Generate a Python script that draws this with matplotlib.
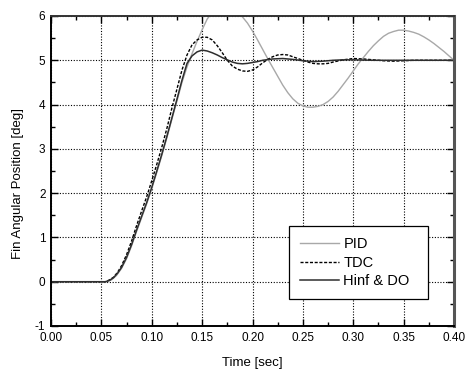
import matplotlib
matplotlib.use("Agg")
import matplotlib.pyplot as plt
from matplotlib.ticker import MultipleLocator

plt.rcParams['font.family'] = ['Liberation Sans', 'DejaVu Sans']

# ---- data ----
t_hinf = [0.0, 0.05, 0.054, 0.058, 0.062, 0.066, 0.07, 0.075, 0.08, 0.085, 0.09, 0.095,
          0.10, 0.105, 0.11, 0.115, 0.12, 0.125, 0.13, 0.135, 0.14, 0.145, 0.15, 0.155,
          0.16, 0.165, 0.17, 0.175, 0.18, 0.185, 0.19, 0.195, 0.20, 0.205, 0.21, 0.22,
          0.23, 0.24, 0.25, 0.26, 0.27, 0.28, 0.29, 0.30, 0.32, 0.40]
hinf = [0.0, 0.0, 0.0, 0.03, 0.09, 0.19, 0.32, 0.55, 0.84, 1.17, 1.48, 1.79,
        2.13, 2.5, 2.88, 3.28, 3.7, 4.12, 4.55, 4.93, 5.1, 5.19, 5.23, 5.21,
        5.17, 5.12, 5.06, 5.01, 4.96, 4.93, 4.92, 4.93, 4.95, 4.97, 5.0, 5.03,
        5.04, 5.02, 4.99, 4.97, 4.98, 5.0, 5.01, 5.01, 5.0, 5.0]

t_tdc = [0.0, 0.05, 0.054, 0.058, 0.062, 0.066, 0.07, 0.075, 0.08, 0.085, 0.09, 0.095,
         0.10, 0.105, 0.11, 0.115, 0.12, 0.125, 0.13, 0.135, 0.14, 0.145, 0.15, 0.155,
         0.16, 0.165, 0.17, 0.175, 0.18, 0.185, 0.19, 0.195, 0.20, 0.205, 0.21, 0.215,
         0.22, 0.225, 0.23, 0.235, 0.24, 0.245, 0.25, 0.255, 0.26, 0.265, 0.27, 0.275,
         0.28, 0.29, 0.30, 0.31, 0.32, 0.33, 0.34, 0.35, 0.36, 0.40]
tdc = [0.0, 0.0, 0.0, 0.04, 0.1, 0.21, 0.36, 0.61, 0.92, 1.27, 1.6, 1.92,
       2.28, 2.65, 3.04, 3.46, 3.92, 4.35, 4.78, 5.12, 5.35, 5.46, 5.52, 5.52,
       5.46, 5.33, 5.17, 5.0, 4.87, 4.8, 4.76, 4.75, 4.78, 4.85, 4.94, 5.02,
       5.08, 5.12, 5.13, 5.12, 5.08, 5.04, 5.0, 4.96, 4.93, 4.92, 4.92, 4.93,
       4.96, 5.01, 5.04, 5.03, 5.01, 4.99, 4.98, 4.99, 5.0, 5.0]

t_pid = [0.0, 0.05, 0.055, 0.06, 0.065, 0.07, 0.075, 0.08, 0.085, 0.09, 0.095, 0.10,
         0.105, 0.11, 0.115, 0.12, 0.125, 0.13, 0.135, 0.14, 0.145, 0.15, 0.155, 0.16,
         0.165, 0.17, 0.175, 0.18, 0.185, 0.19, 0.195, 0.20, 0.205, 0.21, 0.215, 0.22,
         0.225, 0.23, 0.235, 0.24, 0.245, 0.25, 0.255, 0.26, 0.265, 0.27, 0.275, 0.28,
         0.285, 0.29, 0.295, 0.30, 0.305, 0.31, 0.315, 0.32, 0.325, 0.33, 0.335, 0.34,
         0.345, 0.35, 0.355, 0.36, 0.365, 0.37, 0.375, 0.38, 0.385, 0.39, 0.395, 0.40]
pid = [0.0, 0.0, 0.0, 0.04, 0.14, 0.3, 0.52, 0.81, 1.14, 1.45, 1.76, 2.1,
       2.47, 2.85, 3.25, 3.67, 4.08, 4.5, 4.85, 5.15, 5.43, 5.69, 5.93, 6.08,
       6.18, 6.23, 6.22, 6.17, 6.09, 5.98, 5.84, 5.66, 5.46, 5.25, 5.04, 4.84,
       4.64, 4.44, 4.27, 4.13, 4.03, 3.97, 3.94, 3.94, 3.96, 4.0, 4.07, 4.17,
       4.3, 4.45, 4.6, 4.76, 4.92, 5.06, 5.2, 5.33, 5.44, 5.54, 5.61, 5.65,
       5.68, 5.68, 5.66, 5.63, 5.59, 5.53, 5.46, 5.38, 5.29, 5.2, 5.1, 5.0]

labels = ["PID", "TDC", "Hinf & DO"]
xticks = [0.00, 0.05, 0.10, 0.15, 0.20, 0.25, 0.30, 0.35, 0.40]
yticks = [-1, 0, 1, 2, 3, 4, 5, 6]

# ---- figure ----
fig = plt.figure(figsize=(4.65, 3.69), dpi=100)
ax = fig.add_axes([51/465, 1-326/369, 403/465, 310/369])

ax.plot(t_pid, pid, color='#a8a8a8', lw=1.0, label=labels[0])
ax.plot(t_tdc, tdc, color='black', lw=1.0, ls=(0, (2.2, 1.2)), label=labels[1])
ax.plot(t_hinf, hinf, color='#2e2e2e', lw=1.1, label=labels[2])

ax.set_xlim(0, 0.40)
ax.set_ylim(-1, 6)
ax.set_xticks(xticks)
ax.set_xticklabels([f"{v:.2f}" for v in xticks])
ax.set_yticks(yticks)
ax.set_yticklabels([str(v) for v in yticks])
ax.xaxis.set_minor_locator(MultipleLocator(0.025))
ax.yaxis.set_minor_locator(MultipleLocator(0.5))

ax.tick_params(which='both', direction='in', top=True, right=True, labelsize=8.5,
               color='black', width=1.0)
ax.tick_params(which='major', length=5, pad=4)
ax.tick_params(which='minor', length=3)

ax.grid(True, which='major', color='black', ls=(0, (1, 1.5)), lw=0.8)

for side in ['left', 'bottom']:
    ax.spines[side].set_linewidth(1.4)
    ax.spines[side].set_color('black')
ax.spines['top'].set_linewidth(1.4)
ax.spines['top'].set_color('#333333')
ax.spines['right'].set_linewidth(2.2)
ax.spines['right'].set_color('#555555')

ax.set_xlabel("Time [sec]", fontsize=9.5, labelpad=10)
ax.set_ylabel("Fin Angular Position [deg]", fontsize=9.5)
ax.yaxis.set_label_coords(-0.067, 0.46)

leg = ax.legend(loc='lower left', bbox_to_anchor=(0.59, 0.087, 0.345, 0.23),
                mode='expand', fontsize=10.5,
                handlelength=2.7, handletextpad=0.3, labelspacing=0.3,
                borderpad=0.75, borderaxespad=0, fancybox=False, framealpha=1,
                edgecolor='black')
leg.get_frame().set_linewidth(0.9)

fig.savefig("out.png", dpi=100)
